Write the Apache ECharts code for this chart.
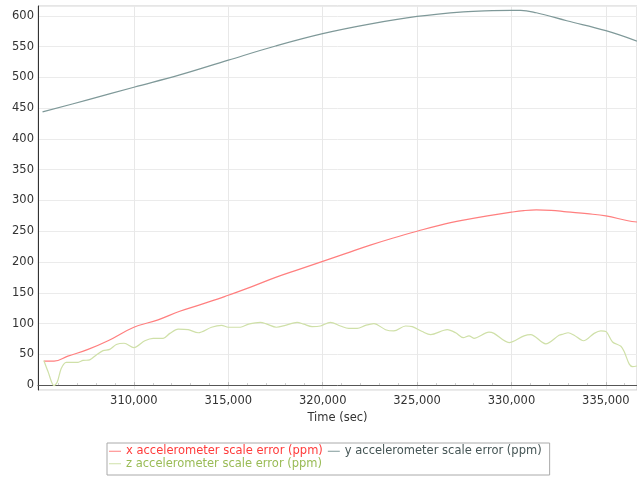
<!DOCTYPE html>
<html>
<head>
<meta charset="utf-8">
<script src="https://cdn.jsdelivr.net/npm/echarts@6/dist/echarts.min.js"></script>
<style>
html, body { margin: 0; padding: 0; background: #fff; }
#main { width: 637px; height: 477px; }
</style>
</head>
<body>
<div id="main"></div>
<script>
// x accelerometer scale error (ppm)
var xTime = [305230, 305770, 306500, 307570, 308630, 310000, 311280, 312430, 313450, 314465,
	315000, 316250, 317508, 318750, 320000, 321240, 322480, 323740, 325000, 326230,
	327456, 328730, 330000, 330650, 331315, 332100, 332930, 334000, 335000, 336170, 336650];
var xVal = [39, 39, 47, 58, 72, 94, 106, 120, 130, 140,
	146, 160, 175, 188, 201, 214, 227, 239, 250, 260,
	268, 275, 281, 283.5, 284.7, 284, 281.5, 278.5, 275, 267, 265];

// y accelerometer scale error (ppm)
var yTime = [305160, 307500, 310000, 312430, 315000, 317508, 320000, 322480, 325000, 327456,
	329000, 330000, 330490, 331315, 332930, 335000, 336650];
var yVal = [444, 463, 484, 504, 528, 551, 571, 586.5, 599, 606.5,
	608.5, 609, 609, 605, 592, 576, 559];

// z accelerometer scale error (ppm)
var zTime = [305230, 305450, 305766, 305940, 306150, 306418, 307040, 307304, 307660, 308010,
	308366, 308720, 309070, 309480, 310000, 310580, 311020, 311550, 311905, 312345,
	312876, 313406, 314112, 314643, 315000, 315635, 316075, 316696, 317050, 317545,
	318023, 318643, 318997, 319440, 319880, 320410, 320940, 321380, 321827, 322268,
	322710, 323330, 323770, 324390, 324745, 325275, 325716, 326600, 327043, 327452,
	327750, 328015, 328810, 329075, 329872, 330667, 331020, 331815, 332520, 332757,
	333000, 333320, 333815, 334380, 334735, 335000, 335355, 335797, 335975, 336240,
	336415, 336650];
var zVal = [40, 22, -1, 5, 27, 37, 37, 40, 41, 49,
	56, 58, 66, 68, 61, 72, 76, 76, 84, 91,
	90, 85, 94, 97, 94, 94, 99, 102, 99, 94,
	97, 102, 99, 95, 96, 102, 96, 92, 92, 97,
	100, 90, 88, 96, 95, 87, 82, 90, 85, 77,
	80, 76, 86, 84, 69, 80, 82, 67, 81, 83,
	85, 81, 72, 84, 88, 87, 70, 63, 54, 34,
	30, 31];

// tick labels on the time axis
var timeTicks = [310000, 315000, 320000, 325000, 330000, 335000];

var names = ['x accelerometer scale error (ppm)', 'y accelerometer scale error (ppm)', 'z accelerometer scale error (ppm)'];
var lineColors = ['#ff7f7f', '#7f9999', '#cfe0a8'];
var textColors = ['#ff3b3b', '#455555', '#99bb55'];

function pairs(t, v){
	var out = [];
	for(var i = 0; i < t.length; i++)
		out.push([t[i], v[i]]);
	return out;
}

var chart = echarts.init(document.getElementById('main'));

function makeSeries(i, t, v, sm){
	return {
		name: names[i],
		type: 'line',
		data: pairs(t, v),
		showSymbol: false,
		symbol: 'none',
		smooth: sm,
		lineStyle: { color: lineColors[i], width: 1.2 },
		itemStyle: { color: lineColors[i] }
	};
}

var option = {
	animation: false,
	backgroundColor: '#fff',
	textStyle: { fontFamily: 'DejaVu Sans' },
	grid: {
		left: 38, right: 0, top: 6, bottom: 87,
		show: true, borderColor: '#cccccc', borderWidth: 1
	},
	legend: {
		left: 107, top: 443,
		width: 440,
		padding: [2, 3, 5, 2],
		itemGap: 0,
		itemWidth: 12,
		itemHeight: 1,
		icon: 'rect',
		borderColor: '#aaaaaa',
		borderWidth: 1,
		textStyle: { fontSize: 11.5, lineHeight: 12.5, padding: [0, 5, 0, 0], fontFamily: 'DejaVu Sans' },
		data: names.map(function(n, i){
			return { name: n, textStyle: { color: textColors[i] }, itemStyle: { color: lineColors[i] } };
		})
	},
	xAxis: {
		type: 'value',
		min: 304920,
		max: 336650,
		splitNumber: 6,
		name: 'Time (sec)',
		nameLocation: 'middle',
		nameGap: 18,
		nameTextStyle: { color: '#333', fontSize: 11.5 },
		axisLine: { lineStyle: { color: '#555' } },
		axisTick: { show: true, inside: true, length: 3, customValues: timeTicks, lineStyle: { color: '#bbb' } },
		minorTick: { show: true, splitNumber: 5, length: 2, lineStyle: { color: '#ccc' } },
		axisLabel: { color: '#333', fontSize: 11.5, margin: 5, customValues: timeTicks },
		splitLine: { show: true, lineStyle: { color: '#e8e8e8' } }
	},
	yAxis: {
		type: 'value',
		min: -8,
		max: 616,
		splitNumber: 12,
		axisLine: { show: true, lineStyle: { color: '#333' } },
		axisTick: { show: false },
		axisLabel: { color: '#333', fontSize: 11.5, margin: 4, showMinLabel: false, showMaxLabel: false },
		splitLine: { show: true, lineStyle: { color: '#ebebeb' } }
	},
	series: [
		makeSeries(0, xTime, xVal, 0.4),
		makeSeries(1, yTime, yVal, 0.4),
		makeSeries(2, zTime, zVal, 0.3)
	]
};

chart.setOption(option);
</script>
</body>
</html>
